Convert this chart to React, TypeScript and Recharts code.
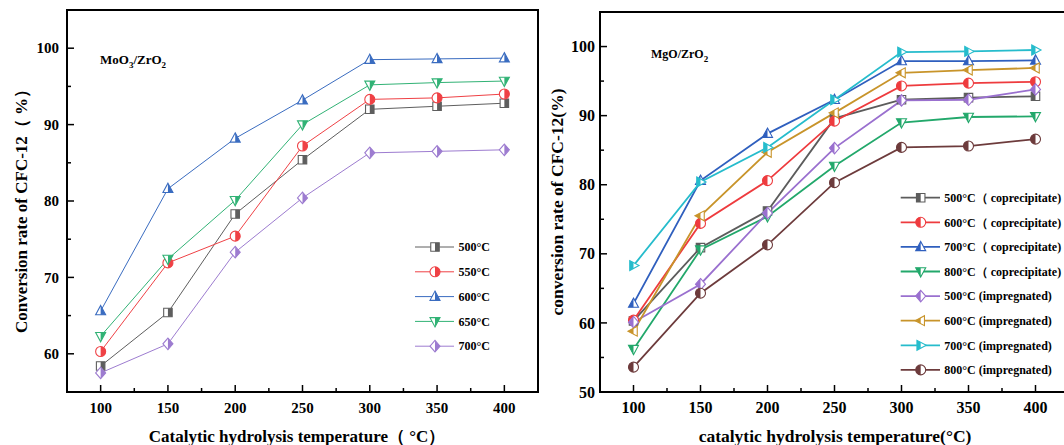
import React from "react";
import { LineChart, Line, XAxis, YAxis, ReferenceArea } from "recharts";

const FONT = "'Liberation Serif', 'Times New Roman', serif";

// 反応温度 (x)
const temps = [100, 150, 200, 250, 300, 350, 400];
const xTicks = [100, 125, 150, 175, 200, 225, 250, 275, 300, 325, 350, 375, 400];

// MoO3/ZrO2 焼成温度ごと
const moNames = ["500°C", "550°C", "600°C", "650°C", "700°C"];
const mo500 = [58.4, 65.4, 78.3, 85.4, 92.0, 92.4, 92.8];
const mo550 = [60.3, 71.9, 75.4, 87.2, 93.3, 93.5, 94.0];
const mo600 = [65.6, 81.6, 88.2, 93.2, 98.5, 98.6, 98.7];
const mo650 = [62.3, 72.4, 80.1, 90.0, 95.2, 95.5, 95.7];
const mo700 = [57.5, 61.3, 73.3, 80.4, 86.3, 86.5, 86.7];
const moYTicks = [60, 65, 70, 75, 80, 85, 90, 95, 100];

// MgO/ZrO2 共沈法 / 含浸法
const mgNames = [
  "500°C（ coprecipitate)",
  "600°C（ coprecipitate)",
  "700°C（ coprecipitate)",
  "800°C（ coprecipitate)",
  "500°C (impregnated)",
  "600°C (impregnated)",
  "700°C (impregnated)",
  "800°C (impregnated)",
];
const mgCop500 = [60.3, 70.9, 76.2, 89.6, 92.3, 92.6, 92.8];
const mgCop600 = [60.4, 74.4, 80.6, 89.2, 94.3, 94.7, 94.9];
const mgCop700 = [62.8, 80.6, 87.4, 92.3, 97.9, 97.9, 98.0];
const mgCop800 = [56.2, 70.6, 75.4, 82.7, 89.0, 89.8, 89.9];
const mgImp500 = [60.1, 65.6, 75.9, 85.3, 92.2, 92.3, 93.8];
const mgImp600 = [58.8, 75.5, 84.7, 90.4, 96.2, 96.6, 96.9];
const mgImp700 = [68.3, 80.4, 85.4, 92.3, 99.2, 99.3, 99.5];
const mgImp800 = [53.6, 64.3, 71.3, 80.3, 85.4, 85.6, 86.6];
const mgYTicks = [50, 55, 60, 65, 70, 75, 80, 85, 90, 95, 100];

type Shape = "square" | "circle" | "up" | "down" | "diamond" | "left" | "right";

interface Series {
  key: string;
  name: string;
  values: number[];
  color: string;
  shape: Shape;
}

const moSeries: Series[] = [
  { key: "s500", name: moNames[0], values: mo500, color: "#5e5e5e", shape: "square" },
  { key: "s550", name: moNames[1], values: mo550, color: "#ef4145", shape: "circle" },
  { key: "s600", name: moNames[2], values: mo600, color: "#3a6cc0", shape: "up" },
  { key: "s650", name: moNames[3], values: mo650, color: "#31b275", shape: "down" },
  { key: "s700", name: moNames[4], values: mo700, color: "#9d7cd0", shape: "diamond" },
];

const mgSeries: Series[] = [
  { key: "c500", name: mgNames[0], values: mgCop500, color: "#5c5c5c", shape: "square" },
  { key: "c600", name: mgNames[1], values: mgCop600, color: "#ee3b3e", shape: "circle" },
  { key: "c700", name: mgNames[2], values: mgCop700, color: "#2f5fbe", shape: "up" },
  { key: "c800", name: mgNames[3], values: mgCop800, color: "#22a86b", shape: "down" },
  { key: "i500", name: mgNames[4], values: mgImp500, color: "#9a70cf", shape: "diamond" },
  { key: "i600", name: mgNames[5], values: mgImp600, color: "#c8942a", shape: "left" },
  { key: "i700", name: mgNames[6], values: mgImp700, color: "#26bccc", shape: "right" },
  { key: "i800", name: mgNames[7], values: mgImp800, color: "#6d3b3c", shape: "circle" },
];

const toRows = (series: Series[]) =>
  temps.map((t, i) => {
    const row: Record<string, number> = { t };
    series.forEach((s) => (row[s.key] = s.values[i]));
    return row;
  });

const moData = toRows(moSeries);
const mgData = toRows(mgSeries);

function shapePath(shape: Shape, cx: number, cy: number, r: number) {
  switch (shape) {
    case "square": {
      const s = r * 0.85;
      return `M${cx - s},${cy - s}H${cx + s}V${cy + s}H${cx - s}Z`;
    }
    case "circle":
      return `M${cx - r},${cy}A${r},${r} 0 1 0 ${cx + r},${cy}A${r},${r} 0 1 0 ${cx - r},${cy}Z`;
    case "up":
      return `M${cx},${cy - r * 1.1}L${cx + r},${cy + r * 0.75}L${cx - r},${cy + r * 0.75}Z`;
    case "down":
      return `M${cx},${cy + r * 1.1}L${cx + r},${cy - r * 0.75}L${cx - r},${cy - r * 0.75}Z`;
    case "diamond":
      return `M${cx},${cy - r * 1.15}L${cx + r},${cy}L${cx},${cy + r * 1.15}L${cx - r},${cy}Z`;
    case "left":
      return `M${cx - r * 1.1},${cy}L${cx + r * 0.75},${cy - r}L${cx + r * 0.75},${cy + r}Z`;
    case "right":
      return `M${cx + r * 1.1},${cy}L${cx - r * 0.75},${cy - r}L${cx - r * 0.75},${cy + r}Z`;
  }
}

// 半分塗りつぶしのマーカー (side: 1 = 右半分, -1 = 左半分)
function Marker(props: { id: string; cx: number; cy: number; shape: Shape; color: string; r: number; side: number }) {
  const { id, cx, cy, shape, color, r, side } = props;
  if (cx == null || cy == null) return null;
  const d = shapePath(shape, cx, cy, r);
  return (
    <g>
      <defs>
        <clipPath id={id}>
          <rect x={side > 0 ? cx : cx - r * 2} y={cy - r * 2} width={r * 2} height={r * 4} />
        </clipPath>
      </defs>
      <path d={d} fill="#fff" />
      <path d={d} fill={color} clipPath={`url(#${id})`} />
      <path d={d} fill="none" stroke={color} strokeWidth={1.1} />
    </g>
  );
}

const renderXTick = (p: any, margin: number, fontSize: number) => {
  const v = p.payload.value;
  const major = v % 50 === 0;
  const base = p.y - margin;
  return (
    <g key={`xt-${v}`}>
      <line x1={p.x} x2={p.x} y1={base} y2={base - (major ? 7 : 4)} stroke="#000" strokeWidth={1.5} />
      {major && (
        <text x={p.x} y={p.y} dy="0.71em" textAnchor="middle" fontFamily={FONT} fontWeight="bold" fontSize={fontSize} fill="#000">
          {v}
        </text>
      )}
    </g>
  );
};

const renderYTick = (p: any, margin: number, fontSize: number) => {
  const v = p.payload.value;
  const major = v % 10 === 0;
  const base = p.x + margin;
  return (
    <g key={`yt-${v}`}>
      <line x1={base} x2={base + (major ? 7 : 4)} y1={p.y} y2={p.y} stroke="#000" strokeWidth={1.5} />
      {major && (
        <text x={p.x} y={p.y} dy="0.35em" textAnchor="end" fontFamily={FONT} fontWeight="bold" fontSize={fontSize} fill="#000">
          {v}
        </text>
      )}
    </g>
  );
};

const textStyle = { fontFamily: FONT, fontWeight: "bold" as const, fill: "#000" };

export default function App() {
  return (
    <div style={{ position: "relative", width: 1064, height: 445, overflow: "hidden", background: "#fff" }}>
      <style>{`body{margin:0}`}</style>

      {/* MoO3/ZrO2 */}
      <div style={{ position: "absolute", left: 0, top: 0, width: 540, height: 445 }}>
        <LineChart width={540} height={445} data={moData} margin={{ top: 10, right: 2, bottom: 0, left: 0 }}>
          <XAxis
            dataKey="t"
            type="number"
            domain={[75, 425]}
            ticks={xTicks}
            interval={0}
            height={53}
            tickSize={0}
            tickMargin={10}
            axisLine={false}
            tickLine={false}
            tick={(p: any) => renderXTick(p, 10, 15)}
          />
          <YAxis
            type="number"
            domain={[55, 105]}
            ticks={moYTicks}
            interval={0}
            width={67}
            tickSize={0}
            tickMargin={8}
            axisLine={false}
            tickLine={false}
            tick={(p: any) => renderYTick(p, 8, 15)}
          />
          <ReferenceArea x1={75} x2={425} y1={55} y2={105} fill="none" stroke="#000" strokeWidth={2} ifOverflow="visible" />
          {moSeries.map((s) => (
            <Line
              key={s.key}
              dataKey={s.key}
              name={s.name}
              type="linear"
              stroke={s.color}
              strokeWidth={1}
              isAnimationActive={false}
              activeDot={false}
              dot={(p: any) => (
                <Marker key={`mo-${s.key}-${p.index}`} id={`mo-${s.key}-${p.index}`} cx={p.cx} cy={p.cy} shape={s.shape} color={s.color} r={5} side={1} />
              )}
            />
          ))}
        </LineChart>
        <svg width={540} height={445} style={{ position: "absolute", left: 0, top: 0, pointerEvents: "none" }}>
          <text x={100} y={64} fontSize={13} {...textStyle}>
            MoO<tspan fontSize={9} dy={4}>3</tspan>
            <tspan dy={-4}>/ZrO</tspan>
            <tspan fontSize={9} dy={4}>2</tspan>
          </text>
          {moSeries.map((s, i) => {
            const y = 247 + i * 24.8;
            return (
              <g key={s.key}>
                <line x1={415} x2={454} y1={y} y2={y} stroke={s.color} strokeWidth={1} />
                <Marker id={`mo-lg-${s.key}`} cx={435} cy={y} shape={s.shape} color={s.color} r={5} side={1} />
                <text x={458.5} y={y} dy="0.35em" fontSize={12} {...textStyle}>
                  {s.name}
                </text>
              </g>
            );
          })}
          <text x={27} y={207} fontSize={17} textAnchor="middle" transform="rotate(-90 27 207)" {...textStyle}>
            Conversion rate of CFC-12（ %）
          </text>
          <text x={297} y={442} fontSize={17} textAnchor="middle" {...textStyle}>
            Catalytic hydrolysis temperature（ °C）
          </text>
        </svg>
      </div>

      {/* MgO/ZrO2 */}
      <div style={{ position: "absolute", left: 530, top: 0, width: 540, height: 445 }}>
        <LineChart width={540} height={445} data={mgData} margin={{ top: 12, right: 1, bottom: 0, left: 0 }}>
          <XAxis
            dataKey="t"
            type="number"
            domain={[75, 425]}
            ticks={xTicks}
            interval={0}
            height={53}
            tickSize={0}
            tickMargin={10}
            axisLine={false}
            tickLine={false}
            tick={(p: any) => renderXTick(p, 10, 16)}
          />
          <YAxis
            type="number"
            domain={[50, 105]}
            ticks={mgYTicks}
            interval={0}
            width={70}
            tickSize={0}
            tickMargin={5}
            axisLine={false}
            tickLine={false}
            tick={(p: any) => renderYTick(p, 5, 16)}
          />
          <ReferenceArea x1={75} x2={425} y1={50} y2={105} fill="none" stroke="#000" strokeWidth={2} ifOverflow="visible" />
          {mgSeries.map((s) => (
            <Line
              key={s.key}
              dataKey={s.key}
              name={s.name}
              type="linear"
              stroke={s.color}
              strokeWidth={1.8}
              isAnimationActive={false}
              activeDot={false}
              dot={(p: any) => (
                <Marker key={`mg-${s.key}-${p.index}`} id={`mg-${s.key}-${p.index}`} cx={p.cx} cy={p.cy} shape={s.shape} color={s.color} r={5} side={-1} />
              )}
            />
          ))}
        </LineChart>
        <svg width={540} height={445} style={{ position: "absolute", left: 0, top: 0, pointerEvents: "none" }}>
          <text x={121} y={57.5} fontSize={12} {...textStyle}>
            MgO/ZrO<tspan fontSize={9} dy={4}>2</tspan>
          </text>
          {mgSeries.map((s, i) => {
            const y = 197.7 + i * 24.6;
            return (
              <g key={s.key}>
                <line x1={370.7} x2={410} y1={y} y2={y} stroke={s.color} strokeWidth={1.8} />
                <Marker id={`mg-lg-${s.key}`} cx={390.7} cy={y} shape={s.shape} color={s.color} r={5} side={-1} />
                <text x={414.3} y={y} dy="0.35em" fontSize={12} {...textStyle}>
                  {s.name}
                </text>
              </g>
            );
          })}
          <text x={33} y={202} fontSize={17.5} textAnchor="middle" transform="rotate(-90 33 202)" {...textStyle}>
            conversion rate of CFC-12(%)
          </text>
          <text x={305} y={442} fontSize={17.5} textAnchor="middle" {...textStyle}>
            catalytic hydrolysis temperature(°C)
          </text>
        </svg>
      </div>
    </div>
  );
}
